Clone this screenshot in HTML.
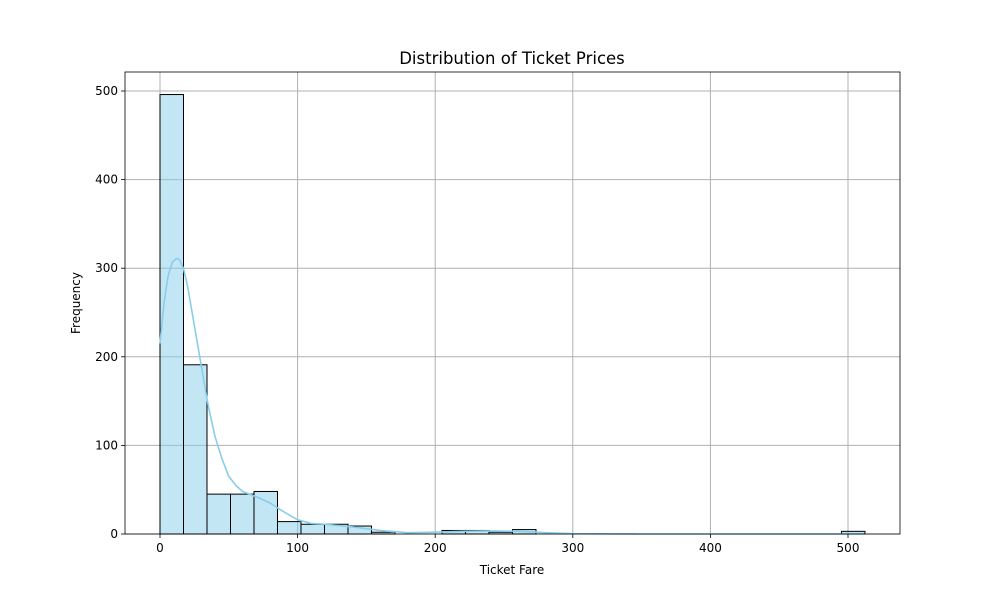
<!DOCTYPE html>
<html><head><meta charset="utf-8"><style>
body{margin:0;background:#fff;font-family:"Liberation Sans","DejaVu Sans",sans-serif}
</style></head><body>
<svg id="chart" width="1000" height="600" font-family="DejaVu Sans, Liberation Sans, sans-serif">
<rect width="1000" height="600" fill="#fff"/>
<g id="grid"></g><g id="bars"></g><g id="kde"></g><g id="axes"></g>
</svg>
<script>
const counts=[496,191,45,45,48,14,11,11,9,2,0,0,4,4,2,5,0,0,0,0,0,0,0,0,0,0,0,0,0,3];
const binMin=0, binMax=512.3292;
const xTicks=[0,100,200,300,400,500];
const yTicks=[0,100,200,300,400,500];
const kdeX=[0,3,6,9,12,14,17,20,25,30,35,40,45,50,55,60,70,80,90,100,110,120,140,160,180,200,220,240,260,280,300,350,400,450,512];
const kdeY=[215,262,292,307,311,310,300,280,235,190,145,110,85,65,55,48,42,35,25,16,12,11,8,4,1.5,2,3,3.5,3,1.5,0.3,0,0,0,0];
const L=125,R=900,T=72,B=534;
const xs=v=>160+v*(848-160)/500;
const ys=v=>534-v*(534-91)/500;
const NS="http://www.w3.org/2000/svg";
function mk(tag,attrs,parent){const e=document.createElementNS(NS,tag);for(const k in attrs)e.setAttribute(k,attrs[k]);parent.appendChild(e);return e;}
const g=document.getElementById('grid'),b=document.getElementById('bars'),k=document.getElementById('kde'),a=document.getElementById('axes');
xTicks.forEach(t=>{const l=mk('line',{x1:xs(t),x2:xs(t),y1:T,y2:B,stroke:'#b0b0b0','stroke-width':1},g);

});
yTicks.forEach(t=>{const l=mk('line',{x1:L,x2:R,y1:ys(t),y2:ys(t),stroke:'#b0b0b0','stroke-width':1},g);

});
const w=(binMax-binMin)/counts.length;
counts.forEach((c,i)=>{if(c<=0)return;const x0=xs(binMin+i*w),x1=xs(binMin+(i+1)*w);
const r=mk('rect',{x:x0,y:ys(c),width:x1-x0,height:ys(0)-ys(c),fill:'rgba(135,206,235,0.5)',stroke:'#000','stroke-width':1},b);

});
const p=mk('polyline',{points:kdeX.map((x,i)=>xs(x)+','+ys(kdeY[i])).join(' '),fill:'none',stroke:'#87ceeb','stroke-width':1.6,'stroke-linejoin':'round'},k);


const fr=mk('rect',{x:L,y:T,width:R-L,height:B-T,fill:'none',stroke:'#000','stroke-width':0.8},a);


xTicks.forEach(t=>{mk('line',{x1:xs(t),x2:xs(t),y1:B,y2:B+4,stroke:'#000','stroke-width':0.8},a);
const tx=mk('text',{x:xs(t),y:B+18,'text-anchor':'middle','font-size':12},a);tx.textContent=t;

});
yTicks.forEach(t=>{mk('line',{x1:L-4,x2:L,y1:ys(t),y2:ys(t),stroke:'#000','stroke-width':0.8},a);
const tx=mk('text',{x:L-7,y:ys(t)+4,'text-anchor':'end','font-size':12},a);tx.textContent=t;

});
let t1=mk('text',{x:512,y:64,'text-anchor':'middle','font-size':16.5},a);t1.textContent='Distribution of Ticket Prices';


let t2=mk('text',{x:512,y:574,'text-anchor':'middle','font-size':12},a);t2.textContent='Ticket Fare';


let t3=mk('text',{x:80,y:303,'text-anchor':'middle','font-size':12,transform:'rotate(-90 80 303)'},a);t3.textContent='Frequency';


</script>
</body></html>
